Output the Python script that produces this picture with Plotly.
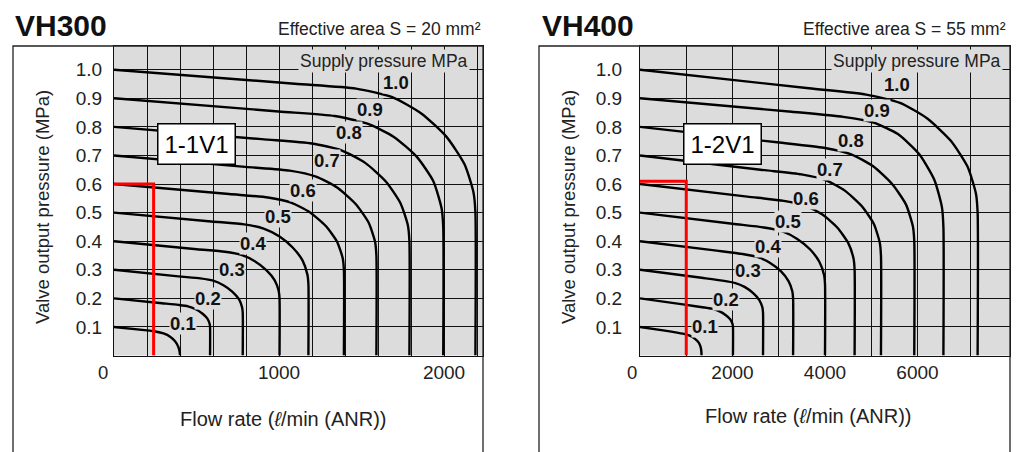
import plotly.graph_objects as go

FONT = "Liberation Sans, Arial, Helvetica, sans-serif"
W, H = 1019, 452

supply_labels = ["0.1", "0.2", "0.3", "0.4", "0.5", "0.6", "0.7", "0.8", "0.9", "1.0"]

# ---------------- VH300 (flow l/min, output pressure MPa) ----------------
vh300_flow = [
    [0, 200, 250, 300, 340, 370, 390, 398, 400],
    [0, 291, 390, 448, 495, 535, 565, 579, 582, 582],
    [0, 390, 523, 601, 663, 718, 757, 776, 780, 780],
    [0, 502, 672, 772, 853, 923, 973, 998, 1003, 1003],
    [0, 589, 789, 907, 1001, 1084, 1143, 1172, 1178, 1178],
    [0, 697, 933, 1073, 1184, 1282, 1351, 1386, 1393, 1393],
    [0, 795, 1065, 1224, 1352, 1463, 1542, 1582, 1590, 1590],
    [0, 895, 1199, 1378, 1522, 1647, 1736, 1781, 1790, 1790],
    [0, 998, 1337, 1536, 1696, 1835, 1935, 1985, 1995, 1995],
    [0, 1095, 1467, 1686, 1862, 2015, 2124, 2179, 2190, 2190],
]
vh300_pressure = [
    [0.1, 0.088, 0.084, 0.077, 0.066, 0.050, 0.030, 0.012, 0],
    [0.2, 0.183, 0.177, 0.172, 0.162, 0.147, 0.130, 0.112, 0.1, 0],
    [0.3, 0.277, 0.270, 0.262, 0.246, 0.223, 0.197, 0.169, 0.15, 0],
    [0.4, 0.372, 0.363, 0.352, 0.330, 0.299, 0.264, 0.226, 0.2, 0],
    [0.5, 0.469, 0.459, 0.444, 0.417, 0.377, 0.332, 0.283, 0.25, 0],
    [0.6, 0.565, 0.553, 0.535, 0.502, 0.454, 0.399, 0.340, 0.3, 0],
    [0.7, 0.660, 0.647, 0.626, 0.588, 0.531, 0.466, 0.398, 0.35, 0],
    [0.8, 0.757, 0.742, 0.718, 0.674, 0.609, 0.533, 0.455, 0.4, 0],
    [0.9, 0.854, 0.838, 0.811, 0.765, 0.695, 0.610, 0.515, 0.45, 0],
    [1.0, 0.951, 0.934, 0.904, 0.847, 0.765, 0.669, 0.569, 0.5, 0],
]
vh300_label_flow = [420, 572, 713, 844, 996, 1147, 1289, 1426, 1552, 1709]
vh300_label_pressure = [0.113, 0.200, 0.301, 0.392, 0.485, 0.579, 0.681, 0.780, 0.862, 0.955]
vh300_grid_ticks = [200, 400, 600, 800, 1000, 1200, 1400, 1600, 1800, 2000, 2200]
vh300_tick_text = ["", "", "", "", "1000", "", "", "", "", "2000", ""]
vh300_marker_flow = [0, 240, 240]
vh300_marker_pressure = [0.6, 0.6, 0]

# ---------------- VH400 ----------------
vh400_flow = [
    [0, 500, 800, 970, 1100, 1190, 1270, 1310, 1328, 1330],
    [0, 1005, 1347, 1548, 1709, 1849, 1950, 2000, 2010, 2010],
    [0, 1330, 1782, 2048, 2261, 2447, 2580, 2647, 2660, 2660],
    [0, 1655, 2218, 2549, 2814, 3045, 3211, 3293, 3310, 3310],
    [0, 2000, 2680, 3080, 3400, 3680, 3880, 3980, 4000, 4000],
    [0, 2320, 3109, 3573, 3944, 4269, 4501, 4617, 4640, 4640],
    [0, 2605, 3491, 4012, 4429, 4793, 5054, 5184, 5210, 5210],
    [0, 2965, 3973, 4566, 5041, 5456, 5752, 5900, 5930, 5930],
    [0, 3280, 4395, 5051, 5576, 6035, 6363, 6527, 6560, 6560],
    [0, 3650, 4891, 5621, 6205, 6716, 7081, 7264, 7300, 7300],
]
vh400_pressure = [
    [0.1, 0.088, 0.080, 0.075, 0.068, 0.058, 0.045, 0.030, 0.012, 0],
    [0.2, 0.177, 0.169, 0.164, 0.155, 0.142, 0.127, 0.111, 0.1, 0],
    [0.3, 0.272, 0.262, 0.254, 0.240, 0.218, 0.194, 0.168, 0.15, 0],
    [0.4, 0.367, 0.355, 0.344, 0.324, 0.295, 0.260, 0.225, 0.2, 0],
    [0.5, 0.461, 0.448, 0.434, 0.408, 0.371, 0.327, 0.282, 0.25, 0],
    [0.6, 0.556, 0.541, 0.524, 0.493, 0.447, 0.394, 0.339, 0.3, 0],
    [0.7, 0.650, 0.634, 0.614, 0.577, 0.523, 0.461, 0.395, 0.35, 0],
    [0.8, 0.746, 0.727, 0.704, 0.662, 0.599, 0.528, 0.452, 0.4, 0],
    [0.9, 0.853, 0.835, 0.815, 0.775, 0.705, 0.615, 0.520, 0.45, 0],
    [1.0, 0.935, 0.913, 0.884, 0.830, 0.752, 0.661, 0.566, 0.5, 0],
]
vh400_label_flow = [1402, 1870, 2337, 2768, 3200, 3596, 4099, 4567, 5120, 5560]
vh400_label_pressure = [0.101, 0.197, 0.299, 0.380, 0.468, 0.550, 0.652, 0.751, 0.856, 0.950]
vh400_grid_ticks = [1000, 2000, 3000, 4000, 5000, 6000, 7150]
vh400_tick_text = ["", "2000", "", "4000", "", "6000", ""]
vh400_marker_flow = [0, 1000, 1000]
vh400_marker_pressure = [0.61, 0.61, 0]

y_ticks = [0.1, 0.2, 0.3, 0.4, 0.5, 0.6, 0.7, 0.8, 0.9, 1.0]
y_tick_text = ["0.1", "0.2", "0.3", "0.4", "0.5", "0.6", "0.7", "0.8", "0.9", "1.0"]

GRAY = "#dcdcdc"
GRID = "#111111"

fig = go.Figure()


def px_x(p):
    return p / W


def px_y(p):
    return 1 - p / H


charts = [
    dict(flow=vh300_flow, pres=vh300_pressure, lf=vh300_label_flow, lp=vh300_label_pressure,
         mf=vh300_marker_flow, mp=vh300_marker_pressure, xa="x", ya="y"),
    dict(flow=vh400_flow, pres=vh400_pressure, lf=vh400_label_flow, lp=vh400_label_pressure,
         mf=vh400_marker_flow, mp=vh400_marker_pressure, xa="x2", ya="y2"),
]

annotations = []
for c in charts:
    for q, p in zip(c["flow"], c["pres"]):
        fig.add_trace(go.Scatter(x=q, y=p, mode="lines", xaxis=c["xa"], yaxis=c["ya"],
                                 line=dict(color="black", width=2.4, shape="spline", smoothing=0.6),
                                 hoverinfo="skip", showlegend=False))
    fig.add_trace(go.Scatter(x=c["mf"], y=c["mp"], mode="lines", xaxis=c["xa"], yaxis=c["ya"],
                             line=dict(color="#ff0000", width=3), hoverinfo="skip", showlegend=False))
    for t, lx, ly in zip(supply_labels, c["lf"], c["lp"]):
        annotations.append(dict(x=lx, y=ly, xref=c["xa"], yref=c["ya"], text="<b>%s</b>" % t,
                                showarrow=False, font=dict(family=FONT, size=18.5, color="#111"),
                                bgcolor=GRAY, borderpad=0))

# Supply pressure legends
annotations.append(dict(x=1636, y=1.031, xref="x", yref="y", text="Supply pressure MPa", showarrow=False,
                        font=dict(family=FONT, size=17.5, color="#222"), bgcolor=GRAY, borderpad=1))
annotations.append(dict(x=5983, y=1.031, xref="x2", yref="y2", text="Supply pressure MPa", showarrow=False,
                        font=dict(family=FONT, size=17.5, color="#222"), bgcolor=GRAY, borderpad=1))

# Valve ID boxes
annotations.append(dict(x=499, y=0.740, xref="x", yref="y", text="1-1V1", showarrow=False,
                        font=dict(family=FONT, size=24, color="black"), bgcolor="white",
                        bordercolor="black", borderwidth=1.5, borderpad=6))
annotations.append(dict(x=1786, y=0.740, xref="x2", yref="y2", text="1-2V1", showarrow=False,
                        font=dict(family=FONT, size=24, color="black"), bgcolor="white",
                        bordercolor="black", borderwidth=1.5, borderpad=6))

# Corner zeros
annotations.append(dict(x=0, y=0, xref="x", yref="y", text="0", showarrow=False, xshift=-11, yshift=-17,
                        font=dict(family=FONT, size=18.5, color="#222")))
annotations.append(dict(x=0, y=0, xref="x2", yref="y2", text="0", showarrow=False, xshift=-8, yshift=-17,
                        font=dict(family=FONT, size=18.5, color="#222")))

# Titles
for xl, txt in [(13, "VH300"), (540, "VH400")]:
    annotations.append(dict(x=px_x(xl), y=px_y(25), xref="paper", yref="paper", text="<b>%s</b>" % txt,
                            xanchor="left", yanchor="middle", showarrow=False,
                            font=dict(family=FONT, size=30, color="#111")))
for xr, txt in [(483, "Effective area S = 20 mm²"), (1008, "Effective area S = 55 mm²")]:
    annotations.append(dict(x=px_x(xr), y=px_y(29), xref="paper", yref="paper", text=txt,
                            xanchor="right", yanchor="middle", showarrow=False,
                            font=dict(family=FONT, size=17.5, color="#222")))

# Axis titles
for xc in [42, 568]:
    annotations.append(dict(x=px_x(xc), y=px_y(207), xref="paper", yref="paper",
                            text="Valve output pressure (MPa)", textangle=-90, showarrow=False,
                            xanchor="center", yanchor="middle",
                            font=dict(family=FONT, size=18.5, color="#222")))
for xc, yc in [(283, 419), (808, 416)]:
    annotations.append(dict(x=px_x(xc), y=px_y(yc), xref="paper", yref="paper",
                            text="Flow rate (<i>ℓ</i>/min (ANR))", showarrow=False,
                            xanchor="center", yanchor="middle",
                            font=dict(family=FONT, size=20, color="#222")))

# Outer frames
shapes = []
for x0, x1 in [(13, 483), (539, 1010)]:
    shapes.append(dict(type="rect", xref="paper", yref="paper", x0=px_x(x0), x1=px_x(x1),
                       y0=-0.2, y1=px_y(46), line=dict(color="#222", width=1.3), layer="above"))

ydom = [px_y(355.5), px_y(46)]
axis_common = dict(showline=True, mirror=True, linecolor="#111", linewidth=1.3, zeroline=False,
                   showgrid=True, gridcolor=GRID, gridwidth=1.3, ticks="",
                   tickfont=dict(family=FONT, size=19, color="#222"))

fig.update_layout(
    width=W, height=H, margin=dict(l=0, r=0, t=0, b=0),
    paper_bgcolor="white", plot_bgcolor=GRAY, showlegend=False,
    xaxis=dict(domain=[px_x(114), px_x(483)], range=[0, 2236], anchor="y",
               tickmode="array", tickvals=vh300_grid_ticks, ticktext=vh300_tick_text,
               ticklabelstandoff=0, **axis_common),
    yaxis=dict(domain=ydom, range=[0, 1.083], anchor="x",
               tickmode="array", tickvals=y_ticks, ticktext=y_tick_text,
               ticklabelstandoff=7, **axis_common),
    xaxis2=dict(domain=[px_x(640), px_x(1010)], range=[0, 8000], anchor="y2",
                tickmode="array", tickvals=vh400_grid_ticks, ticktext=vh400_tick_text,
                ticklabelstandoff=0, **axis_common),
    yaxis2=dict(domain=ydom, range=[0, 1.083], anchor="x2",
                tickmode="array", tickvals=y_ticks, ticktext=y_tick_text,
                ticklabelstandoff=13, **axis_common),
    annotations=annotations,
    shapes=shapes,
)

fig.write_html("out.html")
